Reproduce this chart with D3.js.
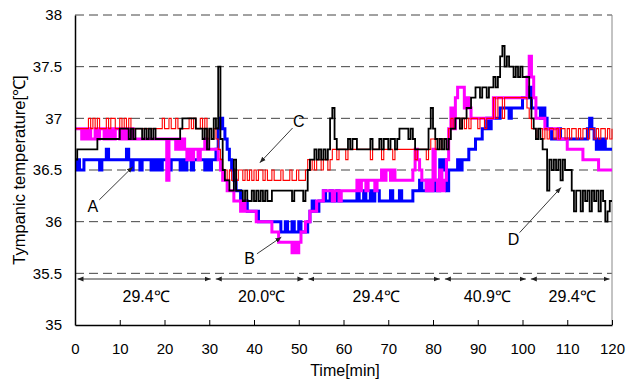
<!DOCTYPE html>
<html>
<head>
<meta charset="utf-8">
<script src="https://cdn.jsdelivr.net/npm/d3@7"></script>
<style>
  html, body { margin: 0; padding: 0; background: #fff; }
  svg { display: block; font-family: "Liberation Sans", Arial, sans-serif; }
</style>
</head>
<body>
<svg id="chart" width="629" height="383"></svg>
<script>
"use strict";

/* ── Data (one value every 0.5 min, t = 0 … 120) ───────────── */
const STEP_MIN = 0.5;

// C : thin red
const seriesC = [
  36.9,36.9,36.9,36.9,36.9,36.9,37.0,36.9,37.0,36.9,37.0,36.9,36.9,36.9,37.0,36.9,37.0,37.0,36.9,36.9,
  37.0,36.9,37.0,36.9,37.0,36.9,36.9,36.9,36.9,36.9,36.9,36.9,36.9,36.9,36.9,36.9,36.9,36.9,36.9,37.0,
  36.9,36.9,37.0,36.9,36.9,37.0,36.9,36.9,36.9,36.9,36.9,37.0,36.9,37.0,36.9,36.9,37.0,36.9,37.0,36.8,
  36.9,36.8,36.9,36.8,36.7,36.6,36.5,36.5,36.4,36.5,36.4,36.5,36.4,36.5,36.5,36.4,36.5,36.4,36.5,36.4,
  36.5,36.4,36.5,36.5,36.4,36.5,36.4,36.4,36.5,36.4,36.4,36.4,36.5,36.4,36.4,36.4,36.5,36.4,36.4,36.5,
  36.4,36.4,36.4,36.5,36.6,36.5,36.6,36.5,36.6,36.6,36.5,36.6,36.6,36.5,36.6,36.7,36.7,36.6,36.7,36.7,
  36.7,36.6,36.7,36.7,36.7,36.7,36.7,36.7,36.7,36.7,36.7,36.7,36.6,36.7,36.7,36.7,36.7,36.6,36.7,36.7,
  36.7,36.7,36.6,36.7,36.7,36.7,36.7,36.7,36.7,36.7,36.7,36.7,36.6,36.7,36.7,36.7,36.7,36.6,36.7,36.8,
  36.8,36.7,36.8,36.7,36.8,36.8,36.7,36.9,37.0,36.9,37.0,37.0,36.9,37.0,36.9,37.0,36.9,37.0,37.0,37.0,
  36.9,37.0,37.0,36.9,37.0,37.0,37.0,37.2,37.0,37.2,37.2,37.0,37.2,37.2,37.2,37.2,37.2,37.2,37.2,37.2,
  37.2,37.2,37.1,37.0,36.9,36.9,36.8,36.9,36.9,36.8,36.9,36.8,36.9,36.9,36.8,36.9,36.8,36.9,36.9,36.8,
  36.9,36.8,36.9,36.9,36.8,36.9,36.8,36.9,36.9,36.8,36.9,36.9,36.8,36.9,36.8,36.9,36.9,36.8,36.9,36.8,
  36.9
];

// D : black
const seriesD = [
  36.6,36.7,36.7,36.7,36.7,36.7,36.7,36.7,36.7,36.7,36.8,36.8,36.8,36.8,36.8,36.8,36.8,36.8,36.8,36.8,
  36.9,36.9,36.9,36.9,36.8,36.9,36.8,36.9,36.9,36.9,36.8,36.9,36.8,36.9,36.8,36.9,36.8,36.8,36.8,36.8,
  36.8,36.8,36.8,36.8,36.8,36.8,36.8,36.9,37.0,37.0,37.0,37.0,37.0,37.0,36.9,36.9,36.9,36.8,36.9,36.7,
  36.9,36.8,37.0,36.9,37.5,36.8,36.5,36.4,36.4,36.3,36.3,36.6,36.3,36.3,36.3,36.2,36.3,36.2,36.2,36.3,
  36.2,36.3,36.2,36.3,36.2,36.3,36.2,36.2,36.3,36.3,36.3,36.3,36.3,36.3,36.3,36.3,36.3,36.2,36.3,36.3,
  36.3,36.3,36.2,36.3,36.5,36.6,36.6,36.7,36.6,36.7,36.6,36.7,36.6,36.7,37.0,37.1,36.8,36.7,36.7,36.7,
  36.7,36.7,36.8,36.7,36.8,36.8,36.7,36.7,36.7,36.7,36.7,36.7,36.8,36.7,36.7,36.7,36.8,36.7,36.8,36.8,
  36.7,36.8,36.8,36.7,36.8,36.9,36.9,36.9,36.9,36.8,36.9,36.8,36.7,36.7,36.7,36.7,36.7,36.7,36.9,37.1,
  36.9,36.8,36.7,36.8,36.7,36.8,36.7,36.8,36.9,36.9,37.0,37.0,36.9,37.0,37.0,37.1,37.1,37.2,37.2,37.3,
  37.3,37.2,37.3,37.3,37.2,37.3,37.3,37.4,37.3,37.4,37.6,37.7,37.5,37.6,37.5,37.5,37.4,37.5,37.4,37.5,
  37.4,37.4,37.4,37.2,37.0,36.9,36.8,36.9,36.8,36.7,36.7,36.3,36.6,36.5,36.6,36.5,36.6,36.4,36.6,36.5,
  36.5,36.5,36.3,36.1,36.3,36.3,36.1,36.3,36.2,36.3,36.1,36.3,36.2,36.3,36.1,36.3,36.2,36.0,36.1,36.2,
  36.2
];

// A : blue
const seriesA = [
  36.5,36.6,36.5,36.5,36.6,36.6,36.6,36.6,36.6,36.6,36.6,36.5,36.6,36.6,36.7,36.6,36.6,36.6,36.6,36.6,
  36.6,36.6,36.6,36.7,36.6,36.5,36.6,36.6,36.6,36.5,36.6,36.6,36.6,36.6,36.5,36.6,36.5,36.6,36.5,36.6,
  36.6,36.6,36.5,36.6,36.6,36.6,36.6,36.5,36.6,36.5,36.6,36.6,36.5,36.6,36.6,36.6,36.6,36.6,36.5,36.6,
  36.5,36.6,36.6,36.7,36.9,37.0,36.9,36.8,36.7,36.6,36.5,36.4,36.3,36.3,36.2,36.2,36.2,36.1,36.1,36.1,
  36.1,36.1,36.0,36.0,36.0,36.0,36.0,36.0,36.0,36.0,36.0,36.0,35.9,35.9,36.0,35.9,35.9,36.0,35.9,35.9,
  36.0,35.9,35.9,35.9,36.0,36.1,36.2,36.1,36.1,36.2,36.2,36.3,36.2,36.2,36.3,36.2,36.2,36.3,36.2,36.2,
  36.2,36.2,36.2,36.2,36.2,36.2,36.3,36.2,36.2,36.3,36.2,36.2,36.3,36.2,36.3,36.3,36.2,36.2,36.2,36.2,
  36.2,36.3,36.2,36.2,36.2,36.3,36.2,36.2,36.2,36.2,36.2,36.3,36.3,36.3,36.4,36.3,36.3,36.4,36.3,36.4,
  36.3,36.4,36.3,36.6,36.5,36.6,36.3,36.5,36.5,36.5,36.5,36.6,36.5,36.6,36.6,36.6,36.7,36.7,36.7,36.8,
  36.8,36.8,36.9,36.9,37.0,36.9,37.0,37.0,37.0,37.0,37.1,37.1,37.1,37.1,37.0,37.1,37.1,37.1,37.1,37.1,
  37.2,37.2,37.2,37.3,37.1,37.1,37.1,37.1,37.0,37.1,37.0,36.9,36.9,36.8,36.8,36.8,36.9,36.8,36.8,36.8,
  36.8,36.8,36.8,36.8,36.8,36.8,36.8,36.8,36.8,36.9,37.0,36.9,36.8,36.7,36.8,36.7,36.8,36.7,36.7,36.7,
  36.7
];

// B : magenta
const seriesB = [
  36.9,36.9,36.9,36.8,36.9,36.8,36.9,36.8,36.8,36.9,36.8,36.9,36.9,36.8,36.9,36.8,36.9,36.8,36.9,36.9,
  36.8,36.9,36.8,36.9,36.8,36.9,36.8,36.8,36.8,36.8,36.8,36.8,36.8,36.8,36.8,36.8,36.8,36.8,36.8,36.8,
  36.8,36.4,36.8,36.8,36.8,36.7,36.8,36.7,36.8,36.7,36.6,36.7,36.6,36.7,36.7,36.6,36.7,36.7,36.8,36.7,
  36.7,36.7,36.7,36.7,36.6,36.5,36.4,36.4,36.3,36.3,36.3,36.2,36.2,36.2,36.1,36.2,36.1,36.1,36.1,36.1,
  36.1,36.0,36.0,36.0,36.0,36.0,36.0,36.0,35.9,35.9,35.9,35.8,35.8,35.8,35.8,35.8,35.8,35.7,35.8,35.7,
  35.8,35.9,35.9,36.0,36.0,36.1,36.1,36.1,36.2,36.2,36.2,36.3,36.3,36.3,36.3,36.2,36.3,36.3,36.2,36.3,
  36.3,36.3,36.3,36.3,36.3,36.3,36.4,36.3,36.4,36.4,36.3,36.4,36.4,36.4,36.3,36.4,36.4,36.5,36.4,36.5,
  36.5,36.4,36.5,36.4,36.4,36.4,36.4,36.4,36.4,36.4,36.4,36.5,36.7,36.6,36.5,36.4,36.4,36.3,36.4,36.3,
  36.7,36.4,36.3,36.5,36.3,36.4,36.6,36.9,37.1,36.9,37.2,37.3,37.3,37.3,37.1,37.2,37.1,37.0,37.0,37.0,
  37.0,37.0,37.0,37.0,37.0,37.0,37.0,37.2,37.2,37.2,37.2,37.2,37.2,37.2,37.2,37.2,37.2,37.2,37.2,37.2,
  37.2,37.2,37.4,37.6,37.4,37.2,37.0,37.0,37.0,37.0,36.9,36.9,36.9,36.9,36.9,36.9,36.8,36.8,36.8,36.8,
  36.7,36.7,36.7,36.7,36.7,36.7,36.7,36.6,36.6,36.6,36.6,36.6,36.6,36.6,36.5,36.5,36.5,36.5,36.5,36.5,
  36.5
];

const X_TICKS = [0, 10, 20, 30, 40, 50, 60, 70, 80, 90, 100, 110, 120];
const Y_TICKS = [35, 35.5, 36, 36.5, 37, 37.5, 38];

// ambient-temperature phases (min)
const PHASE_BOUNDS = [0, 30.9, 51.6, 82.1, 101.3, 120];
const PHASE_LABELS = ["29.4℃", "20.0℃", "29.4℃", "40.9℃", "29.4℃"];

// callout letters: label position and arrow target, in data units
const CALLOUTS = [
  { label: "A", lx: 4.0,   ly: 36.15, tx: 12.9,  ty: 36.53 },
  { label: "C", lx: 50.0,  ly: 36.97, tx: 41.3,  ty: 36.57 },
  { label: "B", lx: 39.0,  ly: 35.64, tx: 46.1,  ty: 35.85 },
  { label: "D", lx: 98.0,  ly: 35.83, tx: 108.6, ty: 36.33 }
];

/* ── Layout ───────────────────────────────────────────────── */
const W = 629, H = 383;
const M = { top: 15, right: 17, bottom: 58, left: 75 };
const iW = W - M.left - M.right;
const iH = H - M.top - M.bottom;
const LABEL_SIZE = 16;

const x = d3.scaleLinear().domain([0, 120]).range([M.left, M.left + iW]);
const y = d3.scaleLinear().domain([35, 38]).range([M.top + iH, M.top]);

const svg = d3.select("#chart");

const defs = svg.append("defs");
defs.append("marker")
  .attr("id", "head").attr("viewBox", "0 0 10 10")
  .attr("refX", 10).attr("refY", 5)
  .attr("markerWidth", 6).attr("markerHeight", 6)
  .attr("markerUnits", "userSpaceOnUse")
  .attr("orient", "auto-start-reverse")
  .append("path").attr("d", "M0,1 L10,5 L0,9 Z").attr("fill", "#222");

/* gridlines */
svg.append("g").selectAll("line")
  .data(Y_TICKS.filter(d => d > 35))
  .join("line")
  .attr("x1", x(0)).attr("x2", x(120))
  .attr("y1", d => y(d)).attr("y2", d => y(d))
  .attr("stroke", "#444").attr("stroke-width", 1)
  .attr("stroke-dasharray", "9,5");

/* right border */
svg.append("line")
  .attr("x1", x(120)).attr("x2", x(120))
  .attr("y1", y(38)).attr("y2", y(35))
  .attr("stroke", "#888").attr("stroke-width", 1);

/* series */
const line = d3.line()
  .x((d, i) => x(i * STEP_MIN))
  .y(d => y(d))
  .curve(d3.curveStepAfter);

const SERIES = [
  { data: seriesA, color: "#0000ff", width: 3 },
  { data: seriesB, color: "#ff00ff", width: 3 },
  { data: seriesC, color: "#ff0000", width: 1.1 },
  { data: seriesD, color: "#000000", width: 1.8 }
];
svg.append("g").selectAll("path")
  .data(SERIES)
  .join("path")
  .attr("d", d => line(d.data))
  .attr("fill", "none")
  .attr("stroke", d => d.color)
  .attr("stroke-width", d => d.width)
  .attr("stroke-linejoin", "miter");

/* axes */
const xAxis = svg.append("g")
  .attr("transform", `translate(0,${y(35)})`)
  .call(d3.axisBottom(x).tickValues(X_TICKS).tickSizeInner(-5).tickSizeOuter(0).tickPadding(18));
const yAxis = svg.append("g")
  .attr("transform", `translate(${x(0)},0)`)
  .call(d3.axisLeft(y).tickValues(Y_TICKS).tickSize(0).tickPadding(13).tickFormat(d => String(d)));

[xAxis, yAxis].forEach(a => {
  a.select(".domain").attr("stroke", "#000").attr("stroke-width", 1.5);
  a.selectAll("text").attr("font-size", 15).attr("fill", "#000")
    .attr("font-family", "\"Liberation Sans\", Arial, sans-serif");
  a.selectAll(".tick line").attr("stroke", "#000");
});

/* axis titles */
svg.append("text")
  .attr("x", 345).attr("y", 376)
  .attr("text-anchor", "middle")
  .attr("font-size", LABEL_SIZE)
  .text("Time[min]");

svg.append("text")
  .attr("transform", `translate(25,${M.top + iH / 2}) rotate(-90)`)
  .attr("text-anchor", "middle")
  .attr("font-size", 16.5)
  .text("Tympanic temperature[℃]");

/* phase arrows */
const phaseY = 279;
const phases = PHASE_LABELS.map((lab, i) => ({ a: PHASE_BOUNDS[i], b: PHASE_BOUNDS[i + 1], lab }));
const pg = svg.append("g");
pg.selectAll("line")
  .data(phases)
  .join("line")
  .attr("x1", d => x(d.a) + 2.5).attr("x2", d => x(d.b) - 2.5)
  .attr("y1", phaseY).attr("y2", phaseY)
  .attr("stroke", "#333").attr("stroke-width", 1)
  .attr("marker-start", "url(#head)")
  .attr("marker-end", "url(#head)");
pg.selectAll("text")
  .data(phases)
  .join("text")
  .attr("x", d => (x(d.a) + x(d.b)) / 2 + 2)
  .attr("y", 302)
  .attr("text-anchor", "middle")
  .attr("font-size", LABEL_SIZE)
  .text(d => d.lab);

/* callouts */
const cg = svg.append("g");
CALLOUTS.forEach(c => {
  const lx = x(c.lx), ly = y(c.ly);
  const tx = x(c.tx), ty = y(c.ty);
  const ang = Math.atan2(ty - ly, tx - lx);
  cg.append("line")
    .attr("x1", lx + Math.cos(ang) * 9).attr("y1", ly + Math.sin(ang) * 9)
    .attr("x2", tx).attr("y2", ty)
    .attr("stroke", "#222").attr("stroke-width", 0.9)
    .attr("marker-end", "url(#head)");
  cg.append("text")
    .attr("x", lx).attr("y", ly)
    .attr("dy", "0.35em")
    .attr("text-anchor", "middle")
    .attr("font-size", LABEL_SIZE)
    .text(c.label);
});
</script>
</body>
</html>
